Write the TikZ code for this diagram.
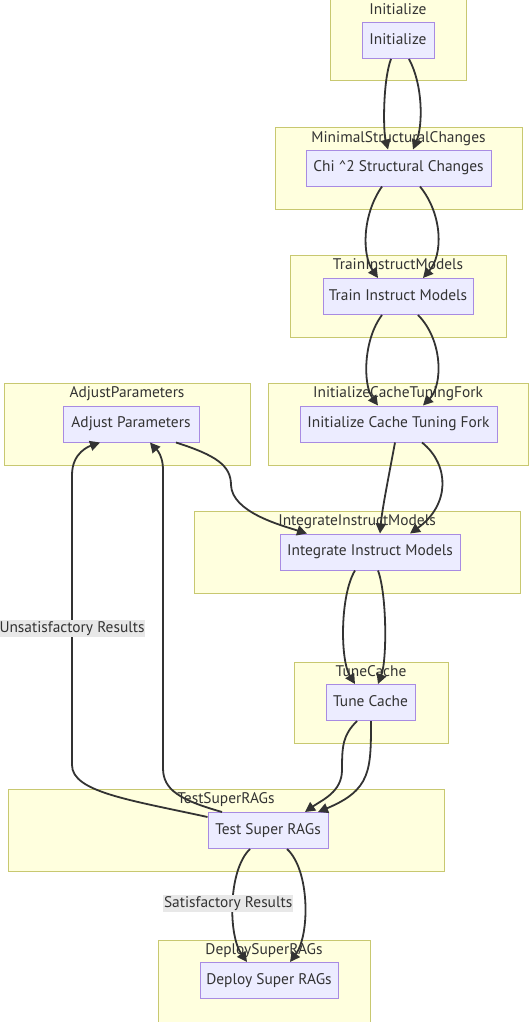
\documentclass[tikz,border=0pt]{standalone}
\usepackage{fontspec}
\setmainfont{PT Sans}
\usepackage{xcolor}
\definecolor{amarillo}{HTML}{FFFFDE}
\definecolor{bordeamarillo}{HTML}{C8C870}
\definecolor{lila}{HTML}{ECECFF}
\definecolor{bordelila}{HTML}{A88BE2}
\definecolor{gris}{HTML}{333333}
\definecolor{fondoetiqueta}{HTML}{E8E8E8}
\usepackage{tikz}
\usetikzlibrary{arrows.meta}

\begin{document}
\begin{tikzpicture}[x=1pt, y=-1pt,
    grupo/.style={draw=bordeamarillo, fill=amarillo, line width=1pt},
    titulo/.style={text=gris, inner sep=0pt, text height=11pt, text depth=3.5pt, font=\fontsize{15.4}{17}\selectfont},
    paso/.style={draw=bordelila, fill=lila, line width=1pt, inner sep=0pt, minimum height=36pt, text=gris, text height=11pt, text depth=3.5pt, font=\fontsize{15.4}{17}\selectfont},
    flecha/.style={draw=gris, line width=1.8pt, -{Triangle[length=10pt,width=10pt]}},
    etiqueta/.style={fill=fondoetiqueta, text=gris, inner sep=1pt, text height=11pt, text depth=3.5pt, font=\fontsize{15.4}{17}\selectfont}]
    \useasboundingbox (0,0) rectangle (530,1022);
    % Subgrafos (cajas amarillas) y sus titulos
    \foreach \xa/\ya/\xb/\yb/\nombre/\titulo in {
        330/0/466/81/tIni/Initialize,
        275/128/522/209/tMin/MinimalStructuralChanges,
        290/255/506/337/tTrain/TrainInstructModels,
        268/383/528/465/tFork/InitializeCacheTuningFork,
        4/383/250/465/tAdj/AdjustParameters,
        194/511/520/593/tInteg/IntegrateInstructModels,
        294/662/448/743/tTune/TuneCache,
        8/789/444/871/tTest/TestSuperRAGs,
        158/940/370/1025/tDeploy/DeploySuperRAGs} {
        \draw[grupo] (\xa,\ya) rectangle (\xb,\yb);
        \node[titulo] (\nombre) at ({(\xa+\xb)/2},\ya+10.5) {\titulo};
    }
    % Pasos
    \node[paso, minimum width=72pt] (ini) at (398,40.5) {Initialize};
    \node[paso, minimum width=185pt] (chi) at (398.5,168) {Chi \^{}2 Structural Changes};
    \node[paso, minimum width=150pt] (train) at (398,296.5) {Train Instruct Models};
    \node[paso, minimum width=197pt] (fork) at (398.5,424) {Initialize Cache Tuning Fork};
    \node[paso, minimum width=136pt] (adj) at (131,424) {Adjust Parameters};
    \node[paso, minimum width=180pt] (integ) at (370,552) {Integrate Instruct Models};
    \node[paso, minimum width=89pt] (tune) at (370.5,702.5) {Tune Cache};
    \node[paso, minimum width=120pt] (test) at (268,830.5) {Test Super RAGs};
    \node[paso, minimum width=138pt] (deploy) at (269,980.5) {Deploy Super RAGs};

    % Flechas entre pasos
    \draw[flecha] ([xshift=-7pt]ini.south) .. controls (383,80) and (383,130) .. ([xshift=-10.5pt]chi.north);
    \draw[flecha] ([xshift=11pt]ini.south) .. controls (423,85) and (423,125) .. ([xshift=14.5pt]chi.north);
    \draw[flecha] ([xshift=-16.5pt]chi.south) .. controls (362,215) and (362,255) .. ([xshift=-20pt]train.north);
    \draw[flecha] ([xshift=21.5pt]chi.south) .. controls (443,215) and (443,255) .. ([xshift=25pt]train.north);
    \draw[flecha] ([xshift=-16pt]train.south) .. controls (363,340) and (363,385) .. ([xshift=-20.5pt]fork.north);
    \draw[flecha] ([xshift=20pt]train.south) .. controls (443,340) and (443,385) .. ([xshift=24.5pt]fork.north);
    \draw[flecha] ([xshift=-3.5pt]fork.south) .. controls (388,480) and (382,510) .. ([xshift=10pt]integ.north);
    \draw[flecha] ([xshift=23.5pt]fork.south) .. controls (450,465) and (450,505) .. ([xshift=40pt]integ.north);
    \draw[flecha] ([xshift=45pt]adj.south) .. controls (215,455) and (231,465) .. (231,485)
        .. controls (232,512) and (280,525) .. ([xshift=-63pt]integ.north);
    \draw[flecha] ([xshift=-15pt]integ.south) .. controls (340,595) and (340,660) .. ([xshift=-15.5pt]tune.north);
    \draw[flecha] ([xshift=8pt]integ.south) .. controls (387,595) and (387,660) .. ([xshift=7.5pt]tune.north);
    \draw[flecha] ([xshift=-13.5pt]tune.south) .. controls (343,735) and (342,745) .. (342,770)
        .. controls (342,792) and (322,800) .. ([xshift=37pt]test.north);
    \draw[flecha] ([xshift=0.5pt]tune.south) .. controls (371,770) and (371,790) .. ([xshift=50pt]test.north);
    % Resultados de la prueba
    \draw[flecha] ([yshift=13.5pt]test.west) .. controls (130,800) and (72,792) .. (72,765)
        -- node[etiqueta, pos=0.47] (insat) {Unsatisfactory Results} (72,475)
        .. controls (72,452) and (90,446) .. ([xshift=-31pt]adj.south);
    \draw[flecha] ([xshift=-46pt]test.north) .. controls (180,800) and (163,790) .. (163,768)
        -- (163,470) .. controls (163,452) and (153,446) .. ([xshift=19pt]adj.south);
    \draw[flecha] ([xshift=-18pt]test.south) .. controls (228,870) and (228,935)
        .. node[etiqueta, xshift=-5pt] (sat) {Satisfactory Results} ([xshift=-22pt]deploy.north);
    \draw[flecha] ([xshift=19pt]test.south) .. controls (310,870) and (310,935) .. ([xshift=21pt]deploy.north);
\end{tikzpicture}
\end{document}
